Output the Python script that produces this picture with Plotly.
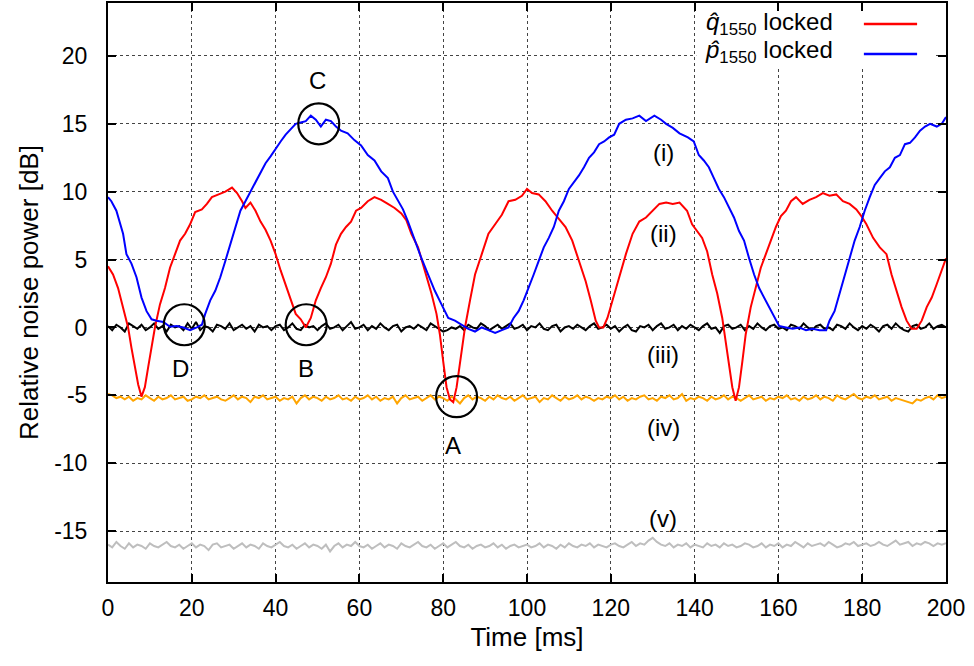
import plotly.graph_objects as go

# ---------------- data ----------------
red_x = [0, 1.2, 2.4, 3.6, 4.8, 5.6, 6.4, 7.2, 8.0, 8.8, 9.6, 10.4, 11.2, 12.4, 13.6, 14.8, 16.0, 17.2, 18.4, 19.6,
         20.8, 22.4, 23.6, 24.8, 26.4, 28.0, 29.6, 30.8, 32.0, 32.8, 34.0, 35.2, 36.4, 37.6, 38.8, 40.0, 41.2, 42.4,
         43.6, 44.8, 46.0, 47.2, 48.4, 49.6, 50.8, 52.0, 53.2, 54.4, 55.6, 56.8, 58.0, 59.2, 60.4, 62.0, 63.6, 65.2,
         66.8, 68.4, 70.0, 71.2, 72.4, 74.0, 75.6, 77.2, 78.4, 79.2, 80.0, 80.8, 81.6, 82.4, 83.2, 84.0, 85.2, 86.4,
         87.6, 89.2, 90.8, 92.4, 94.0, 95.6, 97.2, 98.8, 100.0, 101.2, 102.8, 104.4, 106.0, 107.6, 109.2, 110.8,
         112.4, 114.0, 115.2, 116.4, 117.2, 118.2, 119.2, 120.4, 122.0, 123.6, 125.2, 126.8, 128.4, 130.0, 131.6,
         133.2, 134.8, 136.4, 138.2, 139.4, 140.6, 141.8, 143.0, 144.2, 145.4, 146.6, 147.4, 148.2, 149.0, 149.8,
         150.6, 151.4, 152.2, 153.4, 154.6, 155.8, 157.0, 158.2, 159.4, 160.6, 161.8, 163.0, 164.2, 165.8, 167.4,
         169.0, 170.6, 172.2, 173.8, 175.4, 177.0, 178.6, 179.8, 181.0, 182.6, 184.2, 185.8, 187.0, 188.2, 189.4,
         190.6, 191.8, 193.0, 194.2, 195.4, 196.6, 197.8, 199.0, 200.0]
red_y = [4.5, 3.9, 2.9, 1.5, 0.0, -1.5, -2.9, -4.2, -5.1, -4.4, -2.9, -1.5, 0.0, 1.7, 2.9, 4.4, 5.4, 6.4, 6.9, 7.6,
         8.5, 8.7, 9.1, 9.6, 9.8, 10.0, 10.3, 9.9, 9.3, 8.8, 9.2, 8.6, 7.8, 7.2, 6.4, 5.4, 4.2, 3.1,
         2.1, 1.0, 0.6, 0.0, 0.7, 2.0, 2.9, 3.7, 4.7, 6.1, 6.9, 7.4, 7.8, 8.6, 8.8, 9.3, 9.6, 9.4,
         9.1, 8.8, 8.4, 7.9, 6.9, 5.9, 4.2, 2.5, 1.0, -0.5, -2.5, -4.4, -5.3, -5.5, -4.4, -2.5, 0.0, 2.0,
         3.9, 5.4, 6.9, 7.6, 8.3, 9.3, 9.4, 9.7, 10.2, 9.9, 9.8, 9.3, 8.6, 8.0, 7.4, 6.4,
         4.9, 3.4, 2.0, 0.5, 0.0, 0.0, 0.7, 2.0, 3.7, 5.4, 6.9, 7.8, 8.1, 8.6, 9.1,
         9.2, 9.1, 9.2, 8.6, 7.6, 7.1, 6.6, 5.6, 3.9, 2.5, 0.7, -1.0, -2.9, -4.4, -5.4,
         -4.4, -2.5, -0.5, 1.5, 2.9, 4.4, 5.4, 6.4, 7.4, 8.2, 8.6, 9.3, 9.6, 9.1, 9.4,
         9.6, 9.9, 9.7, 9.8, 9.3, 9.1, 8.7, 8.2, 7.6, 6.6, 5.9, 5.4, 3.9, 2.7, 1.5,
         0.5, -0.1, -0.1, 0.5, 1.5, 2.2, 3.2, 4.2, 5.1]

blue_x = [0, 0.8, 2.0, 2.8, 3.6, 4.4, 5.6, 6.8, 8.0, 9.2, 10.4, 11.6, 13.2, 14.8, 16.4, 18.0, 19.6, 21.2, 22.4,
          23.2, 24.4, 25.6, 26.8, 28.0, 29.2, 30.4, 31.6, 32.8, 34.0, 35.2, 36.4, 37.6, 38.8, 40.0, 41.2, 42.4,
          43.6, 44.8, 46.0, 47.2, 48.4, 49.6, 50.8, 52.0, 53.2, 54.4, 55.6, 57.2, 58.8, 60.4, 62.0, 63.6, 65.2,
          66.8, 68.0, 69.2, 70.4, 71.6, 73.2, 74.8, 76.4, 78.0, 79.6, 81.2, 82.8, 84.4, 86.0, 87.6, 89.2, 90.8,
          92.4, 94.0, 95.6, 96.8, 98.0, 99.2, 100.4, 101.6, 102.8, 104.0, 105.2, 106.4, 107.6, 108.8, 110.0,
          111.2, 112.4, 113.6, 114.8, 116.0, 117.2, 118.4, 119.6, 120.8, 122.0, 123.6, 125.2, 126.8, 128.4,
          130.4, 132.0, 133.2, 134.8, 136.4, 138.4, 139.8, 141.0, 142.2, 143.4, 144.6, 145.8, 147.0, 148.2,
          149.4, 150.6, 151.8, 153.0, 154.2, 155.4, 156.6, 157.8, 159.0, 160.2, 161.8, 163.4, 165.0, 166.6,
          168.2, 169.8, 171.4, 172.2, 173.4, 174.6, 175.8, 177.0, 178.2, 179.4, 180.6, 181.8, 183.0, 184.2,
          185.4, 186.6, 187.8, 189.0, 190.2, 191.4, 192.6, 193.8, 195.0, 196.2, 197.8, 199.0, 200.0]
blue_y = [9.6, 9.3, 8.6, 7.8, 6.9, 5.4, 4.7, 3.7, 2.2, 1.2, 0.6, 0.5, 0.4, 0.05, 0.1, 0.0, -0.2, 0.0, 0.2,
          1.0, 2.0, 2.7, 3.7, 4.9, 6.1, 7.4, 8.6, 9.3, 10.0, 10.8, 11.5, 12.1, 12.6, 13.2, 13.7, 14.2,
          14.6, 15.0, 15.1, 15.2, 15.6, 15.3, 14.8, 15.3, 15.2, 14.8, 14.5, 14.3, 13.8, 13.4, 12.7, 12.3, 11.5,
          11.0, 10.0, 9.4, 8.7, 7.8, 6.4, 5.1, 3.9, 2.7, 1.7, 0.7, 0.5, 0.2, -0.1, -0.3, 0.0, -0.2,
          -0.4, -0.2, 0.0, 0.7, 1.2, 2.0, 2.9, 3.9, 4.9, 5.9, 6.6, 7.4, 8.6, 9.3, 10.2,
          10.7, 11.2, 11.8, 12.5, 12.9, 13.5, 13.7, 14.0, 14.2, 15.0, 15.3, 15.4, 15.6, 15.2,
          15.6, 15.3, 15.0, 14.7, 14.3, 14.0, 13.7, 12.7, 12.3, 11.8, 11.0, 10.2, 9.6, 8.8,
          8.1, 7.1, 6.4, 5.1, 3.9, 2.9, 2.2, 1.5, 0.7, 0.1, 0.0, -0.1, 0.0, -0.2,
          -0.1, -0.2, -0.2, 0.5, 1.2, 2.5, 3.9, 5.1, 6.4, 7.4, 8.6, 9.6, 10.5, 11.0,
          11.5, 11.8, 12.5, 12.7, 13.5, 13.6, 14.0, 14.5, 14.8, 15.0, 14.8, 15.0, 15.5]

t_ms = list(range(0, 201))

black_y = [0.1, -0.2, 0.2, 0.0, -0.3, 0.3, 0.1, -0.1, 0.2, -0.2, 0.0, 0.3, -0.1, 0.1, -0.3, 0.2, 0.0, 0.1, -0.2, 0.3,
           -0.1, 0.4, -0.2, 0.1, 0.0, -0.3, 0.2, 0.1, -0.1, 0.3, -0.2, 0.0, 0.2, -0.1, 0.1, -0.3, 0.2, 0.0, 0.1, -0.2,
           0.1, 0.2, -0.2, 0.0, 0.3, -0.1, -0.2, 0.2, 0.0, 0.1, -0.2, 0.1, 0.3, -0.1, 0.0, 0.2, -0.2, 0.1, 0.4, -0.1,
           0.0, 0.2, -0.2, 0.1, -0.1, 0.3, 0.0, -0.2, 0.1, 0.2, -0.3, 0.0, 0.1, -0.1, 0.2, 0.0, -0.2, 0.3, 0.1, -0.1,
           -0.3, -0.2, 0.0, -0.1, 0.1, -0.2, 0.2, 0.0, -0.1, 0.3, 0.1, -0.2, 0.0, 0.2, -0.1, 0.1, 0.3, -0.1, 0.0, 0.2,
           -0.2, 0.1, 0.0, 0.3, -0.1, -0.2, 0.1, 0.2, -0.3, 0.0, 0.1, -0.1, 0.2, 0.0, -0.2, 0.1, 0.3, -0.1, 0.0, 0.2,
           -0.1, 0.1, -0.3, 0.0, 0.2, -0.2, -0.3, 0.1, 0.0, 0.2, -0.2, 0.1, 0.3, -0.1, 0.0, 0.2, -0.2, 0.1, -0.1, 0.2,
           0.0, -0.2, 0.1, 0.3, -0.1, 0.0, -0.4, 0.1, 0.2, -0.1, 0.0, 0.2, -0.2, 0.1, -0.1, 0.3, 0.0, -0.2, 0.1, 0.2,
           -0.1, 0.0, -0.2, 0.2, 0.1, -0.1, 0.3, 0.0, -0.2, 0.1, 0.2, -0.1, 0.0, -0.2, 0.2, 0.1, -0.1, 0.3, 0.0, -0.2,
           0.1, -0.1, 0.2, 0.0, -0.3, 0.1, 0.2, -0.1, 0.3, 0.0, -0.2, -0.3, 0.1, 0.2, -0.1, 0.0, 0.3, -0.1, 0.1, 0.2, 0.0]

orange_y = [-4.9, -5.0, -5.2, -5.1, -5.3, -5.1, -5.4, -5.2, -5.3, -5.0, -5.2, -5.4, -5.1, -5.3, -5.2, -5.0, -5.3, -5.2, -5.1, -5.4,
            -5.3, -5.1, -5.2, -5.0, -5.3, -5.2, -5.1, -5.3, -5.4, -5.2, -5.0, -5.3, -5.1, -5.2, -5.5, -5.1, -5.2, -5.0, -5.3, -5.2,
            -5.1, -5.4, -5.2, -5.3, -5.1, -5.6, -5.2, -5.0, -5.3, -5.1, -5.2, -5.4, -5.1, -5.3, -5.2, -5.0, -5.3, -5.2, -5.4, -5.1,
            -5.3, -5.2, -5.0, -5.3, -5.1, -5.4, -5.2, -5.3, -5.1, -5.6, -5.2, -5.0, -5.3, -5.2, -5.1, -5.4, -5.2, -5.0, -5.3, -5.1,
            -5.2, -5.4, -5.1, -5.3, -5.6, -5.2, -5.0, -5.3, -5.1, -5.2, -5.4, -5.1, -5.3, -5.0, -5.2, -5.3, -5.1, -5.4, -5.2, -5.0,
            -5.3, -5.2, -5.1, -5.5, -5.2, -5.3, -5.0, -5.2, -5.4, -5.1, -5.3, -5.2, -5.0, -5.3, -5.1, -5.2, -5.4, -5.2, -5.3, -5.1,
            -5.2, -5.0, -5.3, -5.1, -5.4, -5.2, -5.3, -5.1, -5.0, -5.3, -5.2, -5.4, -5.1, -5.2, -5.0, -5.3, -5.2, -4.9, -5.4, -5.2,
            -5.3, -5.1, -5.2, -5.4, -5.1, -5.3, -5.2, -5.0, -5.3, -5.1, -5.2, -5.4, -5.2, -5.0, -5.3, -5.2, -5.1, -5.4, -5.2, -5.3,
            -5.1, -5.2, -5.0, -5.3, -5.2, -5.4, -5.1, -5.3, -5.2, -5.0, -5.3, -5.1, -5.2, -5.4, -5.0, -5.2, -5.3, -5.1, -4.9, -5.2,
            -5.3, -5.1, -5.2, -5.0, -5.3, -5.2, -5.1, -5.4, -5.2, -5.3, -5.4, -5.5, -5.6, -5.3, -5.4, -5.2, -5.1, -5.3, -5.0, -5.2, -5.1]

gray_y = [-16.0, -16.2, -15.8, -16.1, -16.3, -15.9, -16.2, -16.0, -16.1, -16.3, -15.9, -16.1, -16.2, -16.0, -15.8, -16.1, -16.2, -16.0, -16.3, -16.1,
          -15.9, -16.2, -16.0, -16.1, -16.4, -16.0, -15.9, -16.2, -16.1, -16.0, -16.3, -16.1, -15.9, -16.2, -16.0, -16.1, -16.3, -15.9, -16.1, -16.2,
          -16.0, -15.8, -16.1, -16.2, -16.0, -16.3, -16.1, -15.9, -16.2, -16.0, -16.1, -16.3, -16.0, -16.5, -16.1, -15.9, -16.2, -16.0, -16.1, -15.8,
          -16.1, -16.2, -16.0, -16.3, -16.1, -15.9, -16.2, -16.0, -16.1, -16.3, -15.9, -16.1, -16.2, -16.0, -15.8, -16.1, -16.2, -16.0, -16.3, -16.1,
          -15.9, -16.2, -16.0, -15.8, -16.1, -16.2, -16.0, -16.3, -16.1, -16.0, -16.2, -16.1, -15.9, -16.2, -16.0, -16.3, -16.1, -16.0, -16.2, -16.1,
          -16.0, -16.2, -16.1, -15.9, -16.2, -16.0, -16.1, -16.3, -16.0, -16.2, -15.9, -16.1, -16.2, -16.0, -16.1, -15.9, -16.2, -16.0, -16.1, -16.2,
          -16.0, -15.9, -16.1, -16.2, -16.0, -15.8, -16.1, -15.9, -16.0, -15.7, -15.5, -15.8, -16.0, -16.1, -15.9, -16.2, -16.0, -16.1, -15.9, -16.2,
          -16.0, -16.1, -16.2, -15.9, -16.1, -16.0, -16.2, -15.9, -16.1, -16.0, -16.2, -16.1, -15.9, -16.0, -16.2, -16.1, -15.9, -16.2, -16.0, -16.1,
          -15.9, -16.2, -16.0, -16.1, -15.8, -16.0, -16.2, -15.9, -16.1, -16.0, -15.9, -16.1, -15.8, -16.0, -16.2, -16.1, -15.9, -16.0, -15.8, -16.1,
          -16.0, -15.9, -16.1, -16.0, -15.8, -16.0, -16.1, -15.9, -15.7, -16.0, -15.9, -15.8, -16.1, -15.9, -16.0, -15.8, -15.9, -16.1, -15.9, -16.0, -15.9]

x_ticks = [0, 20, 40, 60, 80, 100, 120, 140, 160, 180, 200]
y_ticks = [-15, -10, -5, 0, 5, 10, 15, 20]
y_tick_text = ["-15", "-10", "-5", "0", "5", "10", "15", "20"]

# markers: (label, circle centre x, circle centre y, label x, label y)
marks = [("C", 50.3, 15.0, 49.9, 18.2),
         ("D", 18.2, 0.2, 17.4, -3.0),
         ("B", 47.3, 0.2, 47.3, -3.0),
         ("A", 83.2, -5.1, 82.3, -8.7)]
roman = [("(i)", 132.5, 12.9), ("(ii)", 132.5, 6.9), ("(iii)", 132.5, -2.0),
         ("(iv)", 132.5, -7.4), ("(v)", 132.5, -14.1)]

FONT = "Liberation Sans, Arial, sans-serif"
FS = 23
FS_TITLE = 26
FS_ANN = 24

fig = go.Figure()
fig.add_trace(go.Scatter(x=t_ms, y=gray_y, mode="lines", line=dict(color="#bebebe", width=2), showlegend=False))
fig.add_trace(go.Scatter(x=t_ms, y=orange_y, mode="lines", line=dict(color="#ffa500", width=2), showlegend=False))
fig.add_trace(go.Scatter(x=t_ms, y=black_y, mode="lines", line=dict(color="#000000", width=2), showlegend=False))
fig.add_trace(go.Scatter(x=red_x, y=red_y, mode="lines", line=dict(color="#ff0000", width=2), showlegend=False))
fig.add_trace(go.Scatter(x=blue_x, y=blue_y, mode="lines", line=dict(color="#0000ff", width=2), showlegend=False))

shapes = []
shapes.append(dict(type="rect", xref="x", yref="y", x0=140.4, x1=197.2, y0=19.1, y1=24.5,
                   fillcolor="white", line=dict(width=0), layer="between"))
for lab, cx, cy, lx, ly in marks:
    shapes.append(dict(type="circle", xref="x", yref="y", xsizemode="pixel", ysizemode="pixel",
                       xanchor=cx, yanchor=cy, x0=-20.5, x1=20.5, y0=-20.5, y1=20.5,
                       line=dict(color="black", width=2.2)))
shapes.append(dict(type="line", xref="x", yref="y", x0=180.4, x1=193.1, y0=22.35, y1=22.35,
                   line=dict(color="#ff0000", width=2.5)))
shapes.append(dict(type="line", xref="x", yref="y", x0=180.4, x1=193.1, y0=20.15, y1=20.15,
                   line=dict(color="#0000ff", width=2.5)))

annotations = []
for lab, cx, cy, lx, ly in marks:
    annotations.append(dict(x=lx, y=ly, text=lab, showarrow=False, xref="x", yref="y",
                            font=dict(family=FONT, size=FS_ANN, color="black")))
for lab, lx, ly in roman:
    annotations.append(dict(x=lx, y=ly, text=lab, showarrow=False, xref="x", yref="y",
                            font=dict(family=FONT, size=FS_ANN, color="black")))
annotations.append(dict(x=173.6, y=22.4, text="<i>q\u0302</i><sub>1550</sub> locked", showarrow=False,
                        xref="x", yref="y", xanchor="right", font=dict(family=FONT, size=FS_ANN, color="black")))
annotations.append(dict(x=173.6, y=20.3, text="<i>p\u0302</i><sub>1550</sub> locked", showarrow=False,
                        xref="x", yref="y", xanchor="right", font=dict(family=FONT, size=FS_ANN, color="black")))

axis_common = dict(showline=True, linewidth=2, linecolor="black", mirror="allticks",
                   ticks="inside", ticklen=8, tickwidth=1.5, tickcolor="black",
                   showgrid=True, gridcolor="#444444", griddash="dot", gridwidth=1,
                   zeroline=False, tickfont=dict(family=FONT, size=FS, color="black"))

fig.update_layout(
    width=974, height=666,
    margin=dict(l=108, r=28, t=1, b=84),
    paper_bgcolor="white", plot_bgcolor="white",
    shapes=shapes, annotations=annotations,
    xaxis=dict(range=[0, 200], tickvals=x_ticks, ticklabelstandoff=4,
               title=dict(text="Time [ms]", font=dict(family=FONT, size=FS_TITLE, color="black"), standoff=8),
               **axis_common),
    yaxis=dict(range=[-18.75, 23.9], tickvals=y_ticks, ticktext=y_tick_text, ticklabelstandoff=14,
               title=dict(text="Relative noise power [dB]", font=dict(family=FONT, size=FS_TITLE, color="black"), standoff=8),
               **axis_common),
)

fig.write_html("out.html")
